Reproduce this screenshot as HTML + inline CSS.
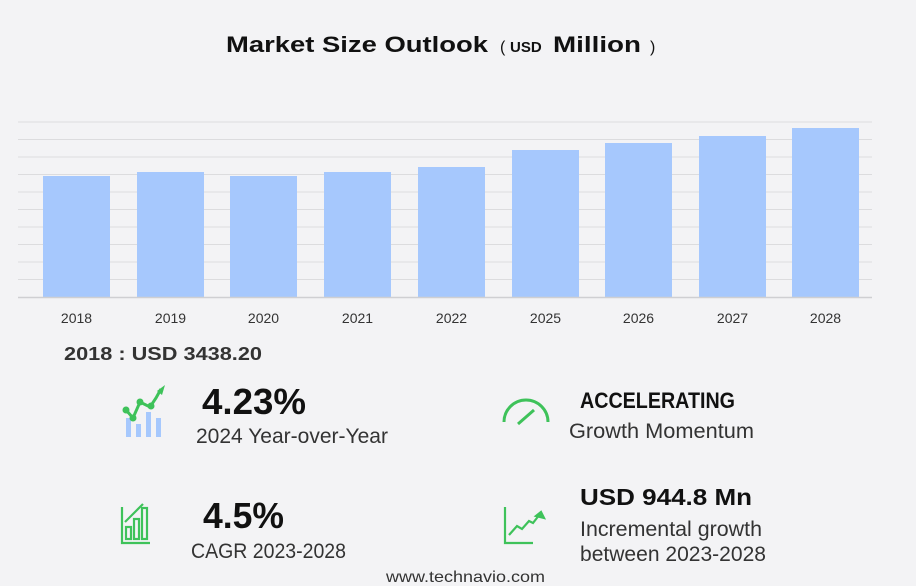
<!DOCTYPE html>
<html><head><meta charset="utf-8"><style>
body{margin:0;background:#f3f3f5;font-family:"Liberation Sans",sans-serif;}
svg{display:block}
</style></head><body>
<svg width="916" height="586" xmlns="http://www.w3.org/2000/svg" font-family="Liberation Sans, sans-serif">
<rect width="916" height="586" fill="#f3f3f5"/>
<text x="226" y="52" font-size="22" font-weight="bold" fill="#111" textLength="262" lengthAdjust="spacingAndGlyphs">Market Size Outlook</text>
<text x="500" y="52" font-size="16" fill="#111">(</text>
<text x="510" y="52" font-size="15" font-weight="bold" fill="#111">USD</text>
<text x="553" y="52" font-size="22" font-weight="bold" fill="#111" textLength="88" lengthAdjust="spacingAndGlyphs">Million</text>
<text x="650" y="52" font-size="16" fill="#111">)</text>
<g stroke="#dcdcde" stroke-width="1">
<line x1="18" x2="872" y1="122" y2="122"/><line x1="18" x2="872" y1="139.5" y2="139.5"/>
<line x1="18" x2="872" y1="157" y2="157"/><line x1="18" x2="872" y1="174.5" y2="174.5"/>
<line x1="18" x2="872" y1="192" y2="192"/><line x1="18" x2="872" y1="209.5" y2="209.5"/>
<line x1="18" x2="872" y1="227" y2="227"/><line x1="18" x2="872" y1="244.5" y2="244.5"/>
<line x1="18" x2="872" y1="262" y2="262"/><line x1="18" x2="872" y1="279.5" y2="279.5"/>
</g>
<g fill="#a6c8fd">
<rect x="43" y="176" width="67" height="121"/>
<rect x="137" y="172" width="67" height="125"/>
<rect x="230" y="176" width="67" height="121"/>
<rect x="324" y="172" width="67" height="125"/>
<rect x="418" y="167" width="67" height="130"/>
<rect x="512" y="150" width="67" height="147"/>
<rect x="605" y="143" width="67" height="154"/>
<rect x="699" y="136" width="67" height="161"/>
<rect x="792" y="128" width="67" height="169"/>
</g>
<line x1="18" x2="872" y1="297.5" y2="297.5" stroke="#cfcfd2" stroke-width="1.5"/>
<g font-size="14" fill="#333" text-anchor="middle">
<text x="76.5" y="323">2018</text><text x="170.5" y="323">2019</text><text x="263.5" y="323">2020</text>
<text x="357.5" y="323">2021</text><text x="451.5" y="323">2022</text><text x="545.5" y="323">2025</text>
<text x="638.5" y="323">2026</text><text x="732.5" y="323">2027</text><text x="825.5" y="323">2028</text>
</g>
<text x="64" y="360" font-size="18" font-weight="bold" fill="#333" textLength="198" lengthAdjust="spacingAndGlyphs">2018 : USD  3438.20</text>
<g>
<rect x="126" y="418" width="5" height="19" fill="#a6c8fd"/><rect x="136" y="424" width="5" height="13" fill="#a6c8fd"/>
<rect x="146" y="412" width="5" height="25" fill="#a6c8fd"/><rect x="156" y="418" width="5" height="19" fill="#a6c8fd"/>
<polyline points="126,410 133,418 140,402 150,407 156,398 161,389" fill="none" stroke="#3ec25a" stroke-width="3"/>
<circle cx="126" cy="410" r="3.5" fill="#3ec25a"/><circle cx="133" cy="418" r="3.5" fill="#3ec25a"/>
<circle cx="140" cy="402" r="3.5" fill="#3ec25a"/><circle cx="151" cy="406" r="3.5" fill="#3ec25a"/>
<polygon points="157,391 165,385 162,395" fill="#3ec25a"/>
</g>
<text x="202" y="414" font-size="36" font-weight="bold" fill="#111" textLength="104" lengthAdjust="spacingAndGlyphs">4.23%</text>
<text x="196" y="443" font-size="21" fill="#333" textLength="192" lengthAdjust="spacingAndGlyphs">2024 Year-over-Year</text>
<g fill="none" stroke="#3ec25a" stroke-width="3">
<path d="M504,422 A22,22 0 0 1 548,422"/>
<line x1="518" y1="424" x2="534" y2="410"/>
</g>
<text x="580" y="408" font-size="22" font-weight="bold" fill="#111" textLength="155" lengthAdjust="spacingAndGlyphs">ACCELERATING</text>
<text x="569" y="438" font-size="21" fill="#333" textLength="185" lengthAdjust="spacingAndGlyphs">Growth Momentum</text>
<g fill="none" stroke="#3ec25a" stroke-width="2.2">
<polyline points="122,507 122,543 150,543"/>
<rect x="126" y="527" width="5" height="12"/><rect x="134" y="519" width="5" height="20"/><rect x="142" y="508" width="5" height="31"/>
<polyline points="125,522 136,511 143,504"/>
</g>
<text x="203" y="528" font-size="36" font-weight="bold" fill="#111" textLength="81" lengthAdjust="spacingAndGlyphs">4.5%</text>
<text x="191" y="558" font-size="21" fill="#333" textLength="155" lengthAdjust="spacingAndGlyphs">CAGR 2023-2028</text>
<g fill="none" stroke="#3ec25a" stroke-width="2.2">
<polyline points="505,507 505,543 533,543"/>
<polyline points="509,535 517,526 522,529 529,521 533,523 540,514"/>
<polygon points="541,512 544,518 536,516" fill="#3ec25a"/>
</g>
<text x="580" y="505" font-size="23" font-weight="bold" fill="#111" textLength="172" lengthAdjust="spacingAndGlyphs">USD 944.8 Mn</text>
<text x="580" y="536" font-size="21" fill="#333" textLength="182" lengthAdjust="spacingAndGlyphs">Incremental growth</text>
<text x="580" y="561" font-size="21" fill="#333" textLength="186" lengthAdjust="spacingAndGlyphs">between 2023-2028</text>
<text x="386" y="582" font-size="16" fill="#333" textLength="159" lengthAdjust="spacingAndGlyphs">www.technavio.com</text>
</svg>
</body></html>
